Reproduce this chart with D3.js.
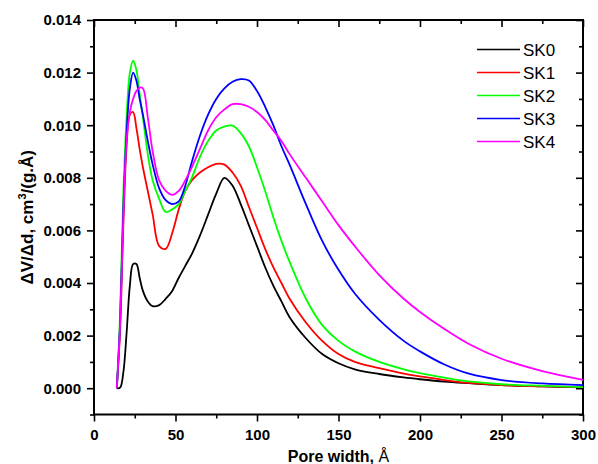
<!DOCTYPE html>
<html>
<head>
<meta charset="utf-8">
<script src="https://cdn.jsdelivr.net/npm/d3@7"></script>
<style>
  html, body { margin: 0; padding: 0; background: #fff; }
  svg { display: block; }
  text { font-family: "Liberation Sans", Arial, sans-serif; }
</style>
</head>
<body>
<svg id="chart" width="598" height="464"></svg>
<script>
// ---- data ----
const poreWidth = [14,16,18,20,22,24,26,28,30,33,36,40,44,48,52,56,60,65,70,75,80,85,90,95,100,105,110,115,120,130,140,150,160,175,190,200,215,230,250,275,300];

const sk0 = [0,0.00002,0.0006,0.0021,0.0039,0.00472,0.00472,0.0042,0.0037,0.0033,0.00312,0.00316,0.0034,0.0037,0.0042,0.00465,0.0051,0.0058,0.0066,0.0074,0.0080,0.0077,0.0070,0.0062,0.0054,0.0046,0.0039,0.0033,0.0027,0.0019,0.0013,0.00095,0.00072,0.00054,0.00041,0.00034,0.00025,0.00019,0.00012,0.00007,0.00003];
const sk1 = [0,0.0022,0.0062,0.0092,0.0104,0.0105,0.0099,0.0091,0.0084,0.0075,0.0066,0.0054,0.0053,0.0059,0.0068,0.0075,0.0079,0.0082,0.0084,0.00853,0.0085,0.0082,0.0077,0.0069,0.0061,0.0053,0.0046,0.0040,0.0034,0.0025,0.0018,0.0013,0.00100,0.00076,0.00055,0.00045,0.00031,0.00020,0.00012,0.00007,0.00004];
const sk2 = [0,0.0028,0.0074,0.0103,0.0120,0.01245,0.0121,0.0112,0.0103,0.0089,0.0079,0.0072,0.0067,0.0068,0.0070,0.0075,0.0080,0.0088,0.0094,0.0098,0.00995,0.00998,0.0097,0.0092,0.0084,0.0075,0.0065,0.0056,0.0048,0.0034,0.0024,0.0018,0.0014,0.0010,0.00072,0.00057,0.00040,0.00026,0.00015,0.00009,0.00004];
const sk3 = [0,0.0025,0.0068,0.0097,0.0114,0.0120,0.0117,0.0110,0.0104,0.0094,0.0085,0.0076,0.00715,0.0070,0.0071,0.0077,0.0086,0.0096,0.0104,0.0110,0.0114,0.01165,0.01175,0.0117,0.0113,0.0107,0.0100,0.0092,0.0085,0.0070,0.0056,0.0045,0.0036,0.0026,0.0018,0.0014,0.0009,0.00055,0.00031,0.00018,0.00012];
const sk4 = [0,0.0024,0.0065,0.0094,0.0105,0.0110,0.0113,0.01143,0.0114,0.0103,0.0090,0.0079,0.0075,0.00735,0.0075,0.0079,0.0084,0.0091,0.0098,0.0103,0.0106,0.0108,0.0108,0.0107,0.0105,0.0102,0.0098,0.0094,0.0089,0.0080,0.0071,0.0062,0.0054,0.0043,0.0034,0.0029,0.00225,0.00168,0.00112,0.00065,0.00032];

const seriesNames = ["SK0","SK1","SK2","SK3","SK4"];
const seriesColors = ["#000000","#ff0000","#00ff00","#0000ff","#ff00ff"];
const seriesValues = [sk0, sk1, sk2, sk3, sk4];

const xTicks = [0,50,100,150,200,250,300];
const xMinorTicks = [25,75,125,175,225,275];
const yTicks = [0,0.002,0.004,0.006,0.008,0.010,0.012,0.014];
const yMinorTicks = [-0.001,0.001,0.003,0.005,0.007,0.009,0.011,0.013];

// ---- chart ----
const svg = d3.select("#chart");
const L = 94, R = 583, T = 20, B = 414.5;
const x = d3.scaleLinear().domain([0,300]).range([L,R]);
const y = d3.scaleLinear().domain([-0.001,0.014]).range([B,T]);

function styleAxis(g){
  g.select(".domain").remove();
  g.selectAll("line").attr("stroke","#000").attr("stroke-width",1.6);
  g.selectAll("text").attr("font-size","15px").attr("font-weight","bold").attr("fill","#000");
}

// bottom
svg.append("g").attr("transform",`translate(0,${B})`)
  .call(d3.axisBottom(x).tickValues(xTicks).tickFormat(d3.format("d")).tickSize(7).tickPadding(8)).call(styleAxis);
svg.append("g").attr("transform",`translate(0,${B})`)
  .call(d3.axisBottom(x).tickValues(xMinorTicks).tickFormat("").tickSize(4)).call(styleAxis);
// top
svg.append("g").attr("transform",`translate(0,${T})`)
  .call(d3.axisTop(x).tickValues(xTicks).tickFormat("").tickSize(-7)).call(styleAxis);
svg.append("g").attr("transform",`translate(0,${T})`)
  .call(d3.axisTop(x).tickValues(xMinorTicks).tickFormat("").tickSize(-4)).call(styleAxis);
// left
svg.append("g").attr("transform",`translate(${L},0)`)
  .call(d3.axisLeft(y).tickValues(yTicks).tickFormat(d3.format(".3f")).tickSize(7).tickPadding(6)).call(styleAxis);
svg.append("g").attr("transform",`translate(${L},0)`)
  .call(d3.axisLeft(y).tickValues(yMinorTicks).tickFormat("").tickSize(4)).call(styleAxis);
// right
svg.append("g").attr("transform",`translate(${R},0)`)
  .call(d3.axisRight(y).tickValues(yTicks).tickFormat("").tickSize(-7)).call(styleAxis);
svg.append("g").attr("transform",`translate(${R},0)`)
  .call(d3.axisRight(y).tickValues(yMinorTicks).tickFormat("").tickSize(-4)).call(styleAxis);

// frame
svg.append("rect").attr("x",L).attr("y",T).attr("width",R-L).attr("height",B-T)
  .attr("fill","none").attr("stroke","#000").attr("stroke-width",2);

// lines
const line = d3.line().x(d => x(d[0])).y(d => y(d[1])).curve(d3.curveCatmullRom.alpha(0.5));
seriesValues.forEach((vals,i) => {
  svg.append("path")
    .datum(poreWidth.map((w,j) => [w, vals[j]]))
    .attr("d", line)
    .attr("fill","none")
    .attr("stroke", seriesColors[i])
    .attr("stroke-width",1.8)
    .attr("stroke-linejoin","round");
});

// legend
const lg = svg.append("g");
seriesNames.forEach((n,i) => {
  const yy = 49.5 + i*23;
  lg.append("line").attr("x1",477).attr("x2",520).attr("y1",yy).attr("y2",yy)
    .attr("stroke",seriesColors[i]).attr("stroke-width",1.5);
  lg.append("text").attr("x",523).attr("y",yy+6).attr("font-size","17px").attr("fill","#000").text(n);
});

// axis titles
const xt = svg.append("text").attr("x",(L+R)/2).attr("y",462).attr("text-anchor","middle")
  .attr("font-size","16px").attr("font-weight","bold");
xt.append("tspan").text("Pore width, ");
xt.append("tspan").attr("font-weight","normal").text("Å");

const yt = svg.append("text").attr("transform",`translate(33,${(T+B)/2}) rotate(-90)`)
  .attr("text-anchor","middle").attr("font-size","17px").attr("font-weight","bold");
yt.append("tspan").text("ΔV/Δd, cm");
yt.append("tspan").attr("dy","-7").attr("font-size","11px").text("3");
yt.append("tspan").attr("dy","7").text("/(g.Å)");
</script>
</body>
</html>
